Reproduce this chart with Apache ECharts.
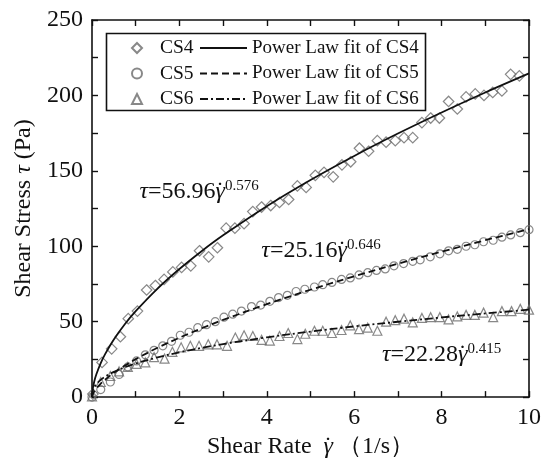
<!DOCTYPE html>
<html>
<head>
<meta charset="utf-8">
<script src="https://cdn.jsdelivr.net/npm/echarts@6/dist/echarts.min.js"></script>
<style>
  html, body { margin: 0; padding: 0; background: #fff; }
  #chart { width: 548px; height: 464px; }
</style>
</head>
<body>
<div id="chart"></div>
<script>
  const cs4Points = [
    [0.02, 2], [0.23, 23], [0.45, 32], [0.65, 40], [0.83, 52], [1.04, 57], [1.25, 71], [1.45, 74],
    [1.65, 78], [1.85, 83], [2.05, 86], [2.26, 87], [2.46, 97], [2.67, 93], [2.87, 99], [3.07, 112],
    [3.27, 112], [3.48, 115], [3.68, 123], [3.88, 126], [4.09, 127], [4.29, 129], [4.5, 131], [4.7, 140],
    [4.9, 139], [5.11, 147], [5.31, 149], [5.52, 146], [5.72, 154], [5.92, 156], [6.12, 165], [6.33, 163],
    [6.53, 170], [6.73, 169], [6.94, 170], [7.14, 172], [7.34, 172], [7.55, 182], [7.75, 185], [7.95, 185],
    [8.16, 196], [8.36, 191], [8.56, 199], [8.77, 201], [8.97, 200], [9.17, 202], [9.38, 203], [9.58, 214],
    [9.78, 213]
  ];
  const cs5Points = [
    [0, 0], [0.2, 5], [0.42, 10], [0.62, 15], [0.82, 20], [1.02, 24], [1.22, 28], [1.42, 31],
    [1.62, 34], [1.82, 37], [2.02, 41], [2.22, 43], [2.42, 46], [2.62, 48], [2.82, 50], [3.02, 53],
    [3.22, 55], [3.42, 57], [3.65, 60], [3.86, 61], [4.07, 63.5], [4.27, 66], [4.47, 67.5], [4.67, 70],
    [4.87, 71.5], [5.09, 73], [5.28, 74.5], [5.49, 76], [5.71, 78], [5.91, 79], [6.11, 81], [6.31, 82.5],
    [6.51, 84], [6.71, 85], [6.91, 87], [7.13, 88.5], [7.34, 90], [7.51, 91], [7.74, 93], [7.96, 95],
    [8.16, 97], [8.36, 98], [8.56, 100], [8.76, 101], [8.96, 103], [9.18, 104], [9.38, 106], [9.58, 107.5],
    [9.8, 109], [10, 111]
  ];
  const cs6Points = [
    [0, 0.5], [0.2, 10], [0.42, 14], [0.62, 17], [0.82, 20], [1.02, 22], [1.22, 23], [1.42, 26.5],
    [1.66, 25.5], [1.84, 30], [2.04, 33], [2.25, 34], [2.45, 34], [2.66, 35], [2.86, 35], [3.09, 34],
    [3.28, 39.5], [3.48, 41], [3.68, 40.5], [3.88, 38], [4.07, 37.5], [4.29, 40.5], [4.49, 42.5], [4.7, 38.5],
    [4.88, 42], [5.09, 44], [5.28, 44], [5.49, 42.5], [5.71, 44.5], [5.91, 47.5], [6.11, 45], [6.31, 46],
    [6.53, 44], [6.73, 50], [6.94, 51], [7.14, 52], [7.34, 49.5], [7.55, 52.5], [7.75, 53], [7.96, 53],
    [8.16, 51.5], [8.36, 53.5], [8.56, 54.5], [8.76, 54.5], [8.96, 56], [9.18, 53], [9.38, 57], [9.6, 57],
    [9.8, 58.5], [10, 58]
  ];

  // power law fit curves, sampled
  const fitX = [0, 0.01, 0.05, 0.1, 0.2, 0.3, 0.5, 0.75, 1, 1.5, 2, 2.5, 3, 4, 5, 6, 7, 8, 9, 10];
  const fit4 = [0, 4.01, 10.15, 15.12, 22.54, 28.47, 38.21, 48.26, 56.96, 71.95, 84.91, 96.56, 107.25, 126.57, 143.93, 159.89, 174.71, 188.68, 201.93, 214.57];
  const fit5 = [0, 1.28, 3.63, 5.68, 8.90, 11.56, 16.08, 20.89, 25.16, 32.70, 39.37, 45.48, 51.16, 61.61, 71.16, 80.06, 88.44, 96.41, 104.02, 111.36];
  const fit6 = [0, 3.30, 6.43, 8.57, 11.43, 13.52, 16.71, 19.77, 22.28, 26.36, 29.71, 32.59, 35.15, 39.60, 43.45, 46.86, 49.96, 52.81, 55.45, 57.93];

  const dataNames = ['CS4', 'CS5', 'CS6'];
  const fitNames = ['Power Law fit of CS4', 'Power Law fit of CS5', 'Power Law fit of CS6'];
  const xTicks = [0, 10, 2];
  const yTicks = [0, 250, 50];

  // annotation text and anchor (data coords)
  const notes = [
    { coef: '56.96', exp: '0.576', at: [2.45, 136] },
    { coef: '25.16', exp: '0.646', at: [5.24, 97] },
    { coef: '22.28', exp: '0.415', at: [8.0, 28] },
  ];

  const serif = '"Liberation Serif", "Times New Roman", serif';
  const ink = '#111';
  const markerGrey = '#6a6a6a';

  const chart = echarts.init(document.getElementById('chart'));

  const zip = (xs, ys) => xs.map((x, i) => [x, ys[i]]);

  // gamma with an overdot, built from two rich tokens
  const gammaDot = '{g|γ}{d|˙}';
  const gammaRich = {
    g: { fontFamily: serif, fontStyle: 'italic', fontSize: 24, color: ink },
    d: { fontFamily: serif, fontSize: 24, color: ink, padding: [0, 0, 0, -9] },
  };

  function axisBase(show) {
    return {
      axisLine: { show: true, onZero: false, lineStyle: { color: ink, width: 1.6 } },
      axisTick: { show: true, inside: true, length: 6, lineStyle: { color: ink, width: 1.4 } },
      minorTick: { show: true, splitNumber: 2, length: 6, lineStyle: { color: ink, width: 1.4 } },
      splitLine: { show: false },
      axisLabel: { show: show, color: ink, fontFamily: serif, fontSize: 24, margin: 9 },
    };
  }

  function scatterSeries(name, data, symbol, size) {
    return {
      name, type: 'scatter', data, symbol, symbolSize: size,
      itemStyle: { color: 'rgba(0,0,0,0)', borderColor: markerGrey, borderWidth: 1.2 },
      z: 2,
    };
  }

  function fitSeries(name, ys, dash, note) {
    return {
      name, type: 'line', data: zip(fitX, ys), smooth: 0.35, showSymbol: false, symbol: 'none',
      lineStyle: { color: ink, width: 1.8, type: dash },
      itemStyle: { color: ink },
      z: 3,
      markPoint: {
        symbol: 'circle', symbolSize: 1,
        itemStyle: { color: 'rgba(0,0,0,0)' },
        data: [{ coord: note.at }],
        label: {
          show: true, position: 'inside', color: ink,
          formatter: '{t|τ}{n|=' + note.coef + '}' + gammaDot + '{s|' + note.exp + '}',
          rich: Object.assign({
            t: { fontFamily: serif, fontStyle: 'italic', fontSize: 24, color: ink },
            n: { fontFamily: serif, fontSize: 24, color: ink },
            s: { fontFamily: serif, fontSize: 15, color: ink, padding: [0, 0, 12, 1] },
          }, gammaRich),
        },
      },
    };
  }

  chart.setOption({
    animation: false,
    grid: { left: 92, right: 19, top: 20, bottom: 61 },
    legend: [
      {
        data: dataNames, orient: 'vertical', left: 126, top: 33,
        itemWidth: 10, itemHeight: 10, itemGap: 5.5,
        textStyle: { fontFamily: serif, fontSize: 19.5, color: ink, lineHeight: 20, padding: [0, 0, 0, 13] },
      },
      {
        data: fitNames, orient: 'vertical', left: 194, top: 33,
        itemWidth: 47, itemHeight: 14, itemGap: 5.5,
        itemStyle: { color: 'rgba(0,0,0,0)', borderWidth: 0 },
        textStyle: { fontFamily: serif, fontSize: 19, color: ink, lineHeight: 20 },
      },
    ],
    graphic: [
      {
        type: 'rect', left: 104, top: 31, z: 10,
        shape: { width: 319, height: 77 },
        style: { fill: 'none', stroke: ink, lineWidth: 1.6 },
      },
    ],
    xAxis: [
      Object.assign(axisBase(true), {
        type: 'value', min: xTicks[0], max: xTicks[1], interval: xTicks[2], position: 'bottom',
        name: '{a|Shear Rate  }' + gammaDot + '{a| （1/s）}', nameLocation: 'middle', nameGap: 30,
        nameTextStyle: {
          rich: Object.assign({ a: { fontFamily: serif, fontSize: 24, color: ink } }, gammaRich),
        },
      }),
      Object.assign(axisBase(false), {
        type: 'value', min: xTicks[0], max: xTicks[1], interval: xTicks[2], position: 'top',
      }),
    ],
    yAxis: [
      Object.assign(axisBase(true), {
        type: 'value', min: yTicks[0], max: yTicks[1], interval: yTicks[2], position: 'left',
        name: '{a|Shear Stress }{b|τ}{a| (Pa)}', nameLocation: 'middle', nameGap: 54,
        nameTextStyle: {
          rich: {
            a: { fontFamily: serif, fontSize: 24, color: ink },
            b: { fontFamily: serif, fontSize: 24, color: ink, fontStyle: 'italic' },
          },
        },
      }),
      Object.assign(axisBase(false), {
        type: 'value', min: yTicks[0], max: yTicks[1], interval: yTicks[2], position: 'right',
      }),
    ],
    series: [
      scatterSeries(dataNames[0], cs4Points, 'diamond', [10.5, 10.5]),
      scatterSeries(dataNames[1], cs5Points, 'circle', 8),
      scatterSeries(dataNames[2], cs6Points, 'triangle', 9),
      fitSeries(fitNames[0], fit4, 'solid', notes[0]),
      fitSeries(fitNames[1], fit5, [7, 4], notes[1]),
      fitSeries(fitNames[2], fit6, [8, 3, 2, 3], notes[2]),
    ],
  });
</script>
</body>
</html>
